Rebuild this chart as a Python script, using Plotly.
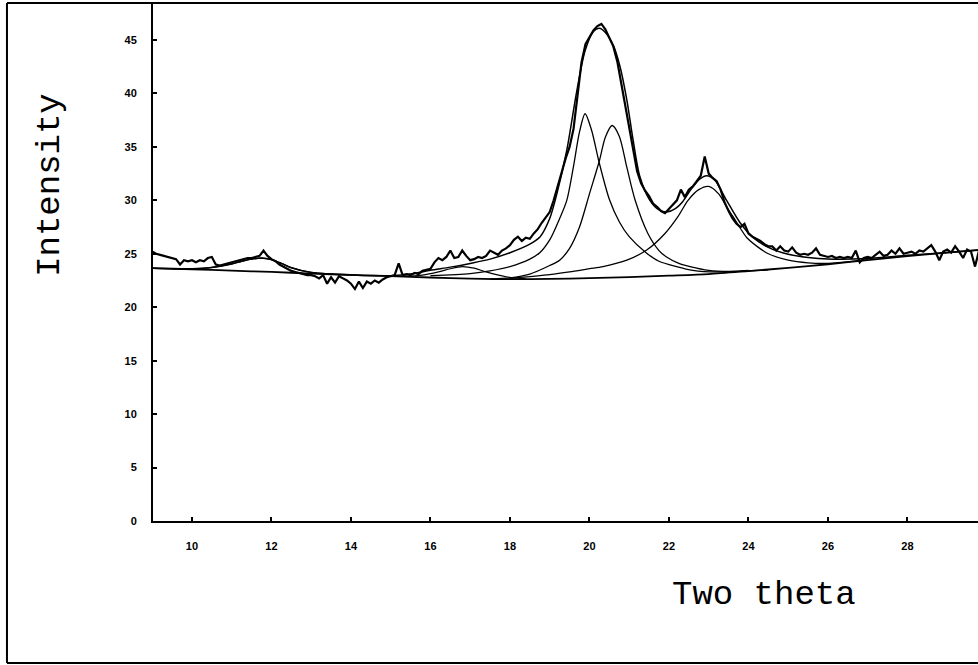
import plotly.graph_objects as go

# ---------------- data ----------------
# observed (noisy) diffraction pattern, sampled every 0.1 deg from 9.0 to 29.8
OBS_X_START = 9.0
OBS_X_STEP = 0.1
OBS_Y = [
    25.2, 25.0, 24.9, 24.8, 24.7, 24.6, 24.5, 24.0, 24.4, 24.3,   # 9.0 - 9.9
    24.4, 24.2, 24.4, 24.3, 24.6, 24.7, 24.0, 23.9, 24.0, 24.1,   # 10.0 - 10.9
    24.2, 24.3, 24.4, 24.5, 24.6, 24.6, 24.7, 24.8, 25.3, 24.8,   # 11.0 - 11.9
    24.5, 24.3, 24.0, 23.8, 23.6, 23.4, 23.3, 23.2, 23.1, 23.0,   # 12.0 - 12.9
    23.0, 22.9, 22.7, 23.0, 22.2, 22.8, 22.3, 22.9, 22.7, 22.5,   # 13.0 - 13.9
    22.2, 21.7, 22.4, 21.8, 22.4, 22.2, 22.5, 22.3, 22.6, 22.8,   # 14.0 - 14.9
    22.9, 23.0, 24.1, 23.0, 23.1, 23.0, 23.2, 23.1, 23.4, 23.5,   # 15.0 - 15.9
    23.6, 24.2, 24.6, 24.4, 24.7, 25.3, 24.6, 24.7, 25.3, 24.8,   # 16.0 - 16.9
    24.4, 24.5, 24.7, 24.6, 24.8, 25.3, 25.1, 24.9, 25.3, 25.5,   # 17.0 - 17.9
    25.8, 26.3, 26.6, 26.2, 26.5, 26.4, 26.9, 27.3, 27.9, 28.4,   # 18.0 - 18.9
    28.9, 30.0, 31.2, 32.6, 33.9, 35.0, 36.7, 39.6, 42.9, 44.6,   # 19.0 - 19.9
    45.2, 45.9, 46.3, 46.5, 46.0, 45.2, 44.4, 43.0, 41.0, 38.8,   # 20.0 - 20.9
    36.8, 34.7, 32.7, 31.6, 30.9, 30.4, 29.7, 29.4, 29.0, 28.8,   # 21.0 - 21.9
    29.2, 29.5, 30.0, 31.0, 30.3, 31.0, 31.3, 31.8, 32.3, 34.1,   # 22.0 - 22.9
    32.5, 32.1, 31.8, 31.0, 29.8, 29.0, 28.3, 27.8, 27.5, 27.8,   # 23.0 - 23.9
    26.9, 26.6, 26.4, 26.2, 25.9, 25.7, 25.7, 25.3, 25.7, 25.3,   # 24.0 - 24.9
    25.2, 25.6, 25.1, 24.9, 25.0, 24.9, 25.1, 25.5, 24.9, 24.8,   # 25.0 - 25.9
    24.7, 24.8, 24.6, 24.7, 24.6, 24.7, 24.6, 25.3, 24.2, 24.6,   # 26.0 - 26.9
    24.7, 24.6, 24.9, 25.2, 24.8, 24.9, 25.3, 25.0, 25.5, 25.0,   # 27.0 - 27.9
    25.1, 25.2, 25.0, 25.3, 25.2, 25.5, 25.8, 25.2, 24.4, 25.2,   # 28.0 - 28.9
    25.4, 25.1, 25.7, 25.2, 24.6, 25.4, 25.2, 23.8, 25.3,         # 29.0 - 29.8
]

# fitted background
BASE_X = [9, 10, 11, 12, 13, 14, 15, 16, 17, 18, 19, 20, 21, 22, 23, 24, 25, 26, 27, 28, 29, 29.8]
BASE_Y = [23.65, 23.55, 23.42, 23.3, 23.15, 23.02, 22.9, 22.78, 22.68, 22.62, 22.65, 22.72,
          22.82, 22.95, 23.1, 23.38, 23.68, 24.02, 24.4, 24.78, 25.1, 25.35]

# small component near 11.7
PKA_X = [9.5, 10.0, 10.5, 11.0, 11.25, 11.5, 11.75, 12.0, 12.25, 12.5, 13.0, 13.5, 14.0]
PKA_Y = [23.6, 23.58, 23.72, 24.05, 24.3, 24.5, 24.6, 24.45, 24.1, 23.7, 23.25, 23.1, 23.02]

# small component near 16.8
PKB_X = [15.3, 15.8, 16.2, 16.5, 16.8, 17.1, 17.4, 17.9, 18.4]
PKB_Y = [22.88, 23.0, 23.3, 23.6, 23.8, 23.65, 23.3, 22.85, 22.65]

# component centred near 19.9
PK1_X = [16.0, 17.0, 17.5, 18.0, 18.5, 18.75, 19.0, 19.25, 19.43, 19.6, 19.75, 19.89,
         20.05, 20.24, 20.5, 20.75, 21.0, 21.44, 21.75, 22.19, 22.6, 23.2, 24.0]
PK1_Y = [22.95, 23.15, 23.4, 23.8, 24.5, 25.1, 26.3, 28.3, 30.0, 33.2, 36.4, 38.1,
         36.6, 33.6, 30.1, 28.0, 26.6, 25.05, 24.3, 23.8, 23.45, 23.3, 23.45]

# component centred near 20.6
PK2_X = [17.5, 18.0, 18.5, 19.0, 19.25, 19.5, 19.75, 20.0, 20.25, 20.4, 20.57, 20.75,
         20.94, 21.15, 21.47, 21.75, 21.94, 22.25, 22.53, 23.0, 23.5, 24.5]
PK2_Y = [22.65, 22.75, 23.1, 23.9, 24.4, 25.5, 27.5, 30.6, 33.7, 35.9, 37.0, 36.0,
         33.1, 30.0, 26.9, 25.3, 24.7, 24.1, 23.8, 23.45, 23.35, 23.5]

# component centred near 23.0
PK3_X = [18.0, 19.0, 19.5, 20.0, 20.34, 20.94, 21.44, 21.9, 22.23, 22.48, 22.75, 23.0,
         23.25, 23.45, 23.66, 23.96, 24.25, 24.5, 25.0, 25.5, 26.0, 27.0]
PK3_Y = [22.7, 23.05, 23.3, 23.6, 23.8, 24.4, 25.35, 26.9, 28.5, 30.0, 31.0, 31.3,
         30.6, 29.4, 28.2, 26.5, 25.6, 25.0, 24.4, 24.15, 24.1, 24.45]

# total fitted curve
FIT_X = [9.0, 9.5, 10.0, 10.5, 11.0, 11.25, 11.5, 11.75, 12.0, 12.25, 12.5, 13.0, 13.5,
         14.0, 14.5, 15.0, 15.5, 16.0, 16.5, 17.0, 17.5, 18.0, 18.5, 18.76, 19.0, 19.18,
         19.43, 19.68, 19.89, 20.1, 20.25, 20.4, 20.6, 20.77, 20.94, 21.1, 21.27, 21.52,
         21.75, 21.94, 22.15, 22.35, 22.55, 22.78, 22.95, 23.15, 23.45, 23.79, 24.12,
         24.5, 25.0, 25.5, 26.0, 27.0, 28.0, 29.0, 29.8]
FIT_Y = [23.65, 23.6, 23.6, 23.72, 24.05, 24.3, 24.5, 24.6, 24.45, 24.1, 23.7, 23.25, 23.1,
         23.02, 22.96, 22.95, 23.1, 23.45, 23.75, 24.1, 24.5, 25.1, 25.9, 26.6, 28.3, 30.6,
         34.7, 40.2, 44.0, 45.8, 46.1, 45.7, 44.5, 42.5, 39.4, 35.6, 32.2, 30.0,
         29.1, 28.9, 29.2, 29.9, 31.0, 32.0, 32.3, 31.9, 30.0, 27.9, 26.5,
         25.6, 24.95, 24.65, 24.5, 24.55, 24.85, 25.12, 25.35]

X_TICKS = [10, 12, 14, 16, 18, 20, 22, 24, 26, 28]
Y_TICKS = [0, 5, 10, 15, 20, 25, 30, 35, 40, 45]
X_RANGE = [9.02, 29.775]
Y_RANGE = [0, 48.46]

obs_x = [round(OBS_X_START + i * OBS_X_STEP, 2) for i in range(len(OBS_Y))]

fig = go.Figure()

smooth = [
    (BASE_X, BASE_Y, 1.8),
    (PKA_X, PKA_Y, 1.3),
    (PKB_X, PKB_Y, 1.2),
    (PK1_X, PK1_Y, 1.3),
    (PK2_X, PK2_Y, 1.3),
    (PK3_X, PK3_Y, 1.3),
    (FIT_X, FIT_Y, 1.5),
]
for xs, ys, w in smooth:
    fig.add_trace(go.Scatter(x=xs, y=ys, mode="lines",
                             line=dict(color="black", width=w, shape="spline", smoothing=0.8),
                             hoverinfo="skip", showlegend=False))

fig.add_trace(go.Scatter(x=obs_x, y=OBS_Y, mode="lines",
                         line=dict(color="black", width=2.2),
                         showlegend=False))

tick_font = dict(family="Liberation Sans", size=11, color="black", weight="bold")
axis_common = dict(showgrid=False, zeroline=False, showline=True, linecolor="black",
                   linewidth=2, ticks="inside", ticklen=4, tickwidth=1.5,
                   tickcolor="black", tickfont=tick_font)

fig.update_xaxes(range=X_RANGE, tickvals=X_TICKS, ticktext=[str(v) for v in X_TICKS],
                 ticklabelstandoff=14, **axis_common)
fig.update_yaxes(range=Y_RANGE, tickvals=Y_TICKS, ticktext=[str(v) for v in Y_TICKS],
                 ticklabelstandoff=12, **axis_common)

title_font = dict(family="Liberation Mono", size=34, color="black")
fig.add_annotation(text="Two theta", xref="paper", yref="paper", x=0.741, y=-0.143,
                   xanchor="center", yanchor="middle", showarrow=False, font=title_font)
fig.add_annotation(text="Intensity", xref="paper", yref="paper", x=-0.1248, y=0.649,
                   xanchor="center", yanchor="middle", textangle=-90, showarrow=False,
                   font=title_font)

# scanned page frame
fl, fb, ft = -0.1770, -0.2741, 1.0
frame = dict(type="line", xref="paper", yref="paper", line=dict(color="black", width=2))
fig.add_shape(x0=fl, x1=fl, y0=fb, y1=ft, **frame)
fig.add_shape(x0=fl, x1=1.0, y0=ft, y1=ft, **frame)
fig.add_shape(x0=fl, x1=1.0, y0=fb, y1=fb, **frame)

fig.update_layout(width=978, height=665, autosize=False,
                  margin=dict(l=153, r=0, t=3, b=144, pad=0),
                  paper_bgcolor="white", plot_bgcolor="white")

fig.write_html("out.html")
